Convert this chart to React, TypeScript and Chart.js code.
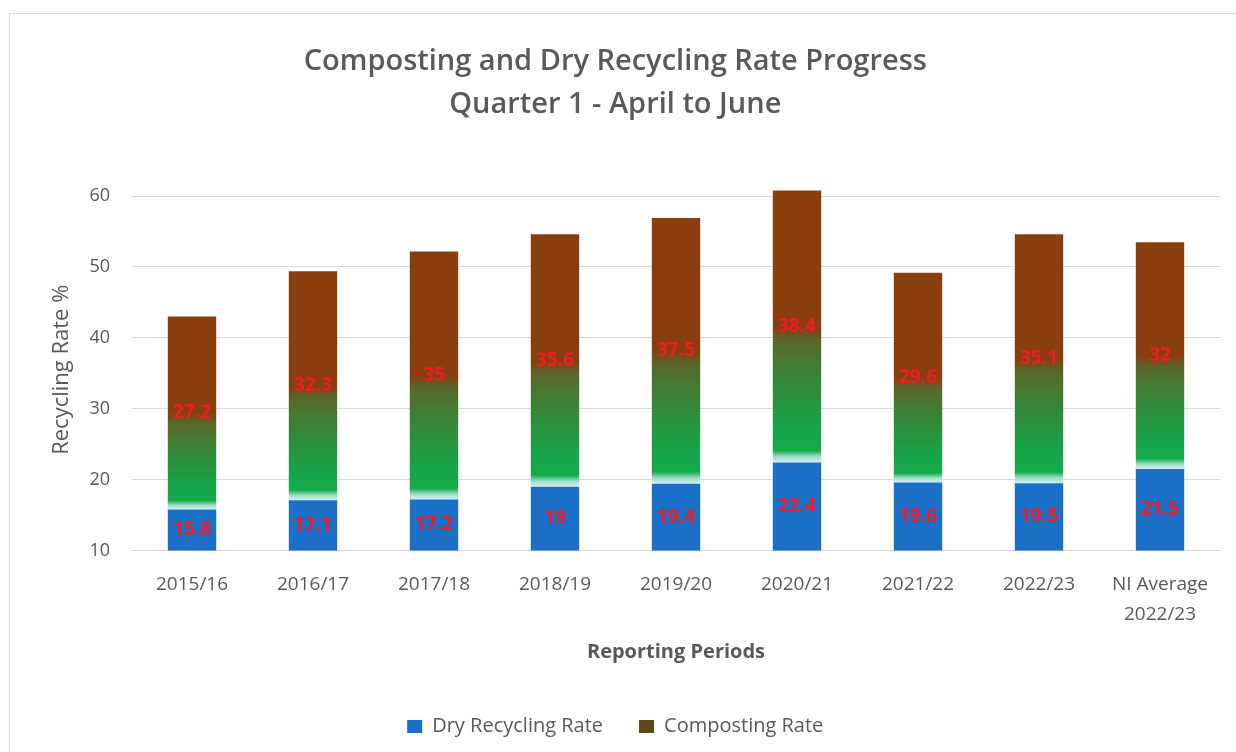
import React, { useEffect, useRef } from "react";
import { Chart, registerables } from "chart.js";

Chart.register(...registerables);

const categories: (string | string[])[] = [
  "2015/16",
  "2016/17",
  "2017/18",
  "2018/19",
  "2019/20",
  "2020/21",
  "2021/22",
  "2022/23",
  ["NI Average", "2022/23"],
];
const dryRecycling = [15.8, 17.1, 17.2, 19, 19.4, 22.4, 19.6, 19.5, 21.5];
const composting = [27.2, 32.3, 35, 35.6, 37.5, 38.4, 29.6, 35.1, 32];
const yTicks = [10, 20, 30, 40, 50, 60];

const FONT = "'Open Sans', 'Noto Sans', sans-serif";
const TEXT = "#595959";
const BLUE = "#1c6fc6";
const BROWN = "#8a3e0d";
const LABEL_RED = "#ee1c25";

const labelPlugin = {
  id: "segmentLabels",
  afterDatasetsDraw(chart: any) {
    const { ctx, chartArea } = chart;
    ctx.save();
    ctx.font = `bold 19px ${FONT}`;
    ctx.fillStyle = LABEL_RED;
    ctx.textAlign = "center";
    ctx.textBaseline = "middle";
    chart.data.datasets.forEach((ds: any, di: number) => {
      const meta = chart.getDatasetMeta(di);
      meta.data.forEach((el: any, i: number) => {
        const base = Math.min(el.base, chartArea.bottom);
        const top = Math.max(el.y, chartArea.top);
        const cy = (base + top) / 2;
        ctx.fillText(String(ds.data[i]), el.x, cy);
      });
    });
    ctx.restore();
  },
};

export default function App() {
  const canvasRef = useRef<HTMLCanvasElement | null>(null);

  useEffect(() => {
    if (!canvasRef.current) return;
    const compositeFill = (c: any) => {
      const chart = c.chart;
      const { chartArea, scales } = chart;
      if (!chartArea || c.type !== "data" || !scales.y) return BROWN;
      const i = c.dataIndex;
      const y0 = scales.y.getPixelForValue(dryRecycling[i]);
      const y1 = scales.y.getPixelForValue(dryRecycling[i] + composting[i]);
      const g = chart.ctx.createLinearGradient(0, y0, 0, y1);
      g.addColorStop(0, "#d2f0f2");
      g.addColorStop(0.022, "#9adcc4");
      g.addColorStop(0.045, "#14ab4a");
      g.addColorStop(0.13, "#18a449");
      g.addColorStop(0.25, "#2b8f3d");
      g.addColorStop(0.37, "#447a31");
      g.addColorStop(0.45, "#5a6627");
      g.addColorStop(0.485, "#784a16");
      g.addColorStop(0.5, BROWN);
      g.addColorStop(1, BROWN);
      return g;
    };

    const chart = new Chart(canvasRef.current, {
      type: "bar",
      data: {
        labels: categories,
        datasets: [
          {
            label: "Dry Recycling Rate",
            data: dryRecycling,
            backgroundColor: BLUE,
            borderWidth: 0,
            barPercentage: 0.4,
            categoryPercentage: 1,
          },
          {
            label: "Composting Rate",
            data: composting,
            backgroundColor: compositeFill,
            borderWidth: 0,
            barPercentage: 0.4,
            categoryPercentage: 1,
          },
        ],
      },
      options: {
        responsive: true,
        maintainAspectRatio: false,
        animation: false,
        layout: { padding: { left: 0, right: 29.5, top: 0, bottom: 27.5 } },
        plugins: {
          title: {
            display: true,
            text: ["Composting and Dry Recycling Rate Progress", "Quarter 1 - April to June"],
            color: TEXT,
            font: { family: FONT, size: 29, weight: "600", lineHeight: 43 / 29 },
            padding: { top: 26.5, bottom: 62.5 },
          },
          legend: {
            position: "bottom",
            labels: {
              color: TEXT,
              font: { family: FONT, size: 20 },
              boxWidth: 15,
              boxHeight: 13,
              padding: 36,
              generateLabels: (chart: any) => {
                const items = Chart.defaults.plugins.legend.labels.generateLabels(chart);
                return items.map((it: any, idx: number) => ({
                  ...it,
                  fillStyle: idx === 0 ? BLUE : "#5a4a1c",
                  strokeStyle: "transparent",
                  lineWidth: 0,
                }));
              },
            },
          },
          tooltip: { enabled: false },
        },
        scales: {
          x: {
            stacked: true,
            grid: { display: false, drawTicks: false },
            border: { display: true, color: "#d9d9d9", width: 1 },
            ticks: {
              color: TEXT,
              font: { family: FONT, size: 19, lineHeight: 30 / 19 },
              padding: 19,
              maxRotation: 0,
              autoSkip: false,
            },
            title: {
              display: true,
              text: "Reporting Periods",
              color: TEXT,
              font: { family: FONT, size: 20, weight: "bold", lineHeight: 1.2 },
              padding: { top: 0, bottom: 16 },
            },
            afterFit: (scale: any) => {
              scale.height = 130;
            },
          },
          y: {
            stacked: true,
            min: 10,
            max: 61,
            afterBuildTicks: (scale: any) => {
              scale.ticks = yTicks.map((v) => ({ value: v }));
            },
            grid: { color: "#d9d9d9", drawTicks: false, lineWidth: 1 },
            border: { display: false },
            ticks: {
              color: TEXT,
              font: { family: FONT, size: 18 },
              padding: 21.5,
            },
            title: {
              display: true,
              text: "Recycling Rate %",
              color: TEXT,
              font: { family: FONT, size: 22, lineHeight: 1.2 },
              padding: { top: 38.8, bottom: 0 },
            },
            afterFit: (scale: any) => {
              scale.width = 121.5;
            },
          },
        },
      },
      plugins: [labelPlugin],
    });
    return () => chart.destroy();
  }, []);

  return (
    <div
      style={{
        position: "fixed",
        left: 0,
        top: 0,
        width: 1236,
        height: 752,
        overflow: "hidden",
        background: "#ffffff",
      }}
    >
      <div
        style={{
          position: "absolute",
          left: 9,
          top: 13,
          width: 1240,
          height: 760,
          border: "1px solid #d9d9d9",
        }}
      >
        <canvas ref={canvasRef} />
      </div>
    </div>
  );
}
